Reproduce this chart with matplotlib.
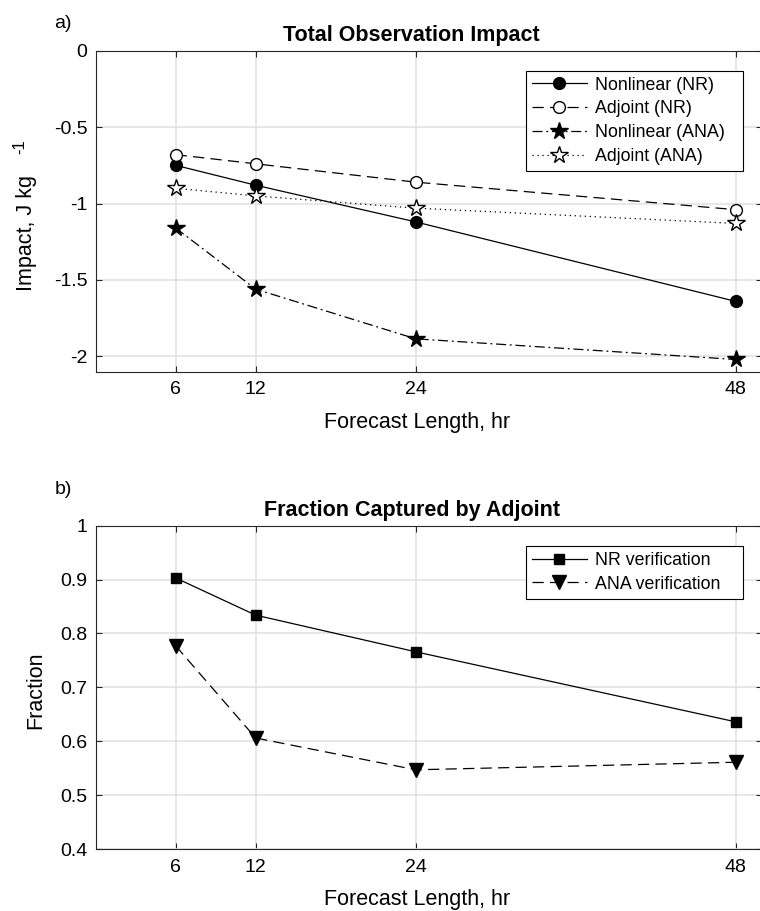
import numpy as np
from matplotlib import pyplot as plt

plt.rcParams['font.family'] = ['Liberation Sans', 'DejaVu Sans']
plt.rcParams['font.size'] = 14

hours = [6, 12, 24, 48]
xticks = [6, 12, 24, 48]

# panel a) total observation impact, J/kg
nl_nr = [-0.75, -0.88, -1.12, -1.64]
adj_nr = [-0.68, -0.74, -0.86, -1.04]
nl_ana = [-1.16, -1.56, -1.885, -2.02]
adj_ana = [-0.90, -0.95, -1.03, -1.13]

# panel b) fraction captured by adjoint
frac_nr = [0.903, 0.834, 0.766, 0.636]
frac_ana = [0.777, 0.606, 0.547, 0.561]

W, H = 760, 911
fig = plt.figure(figsize=(W / 100, H / 100), dpi=100)

spine_col = '#262626'
grid_col = '#e0e0e0'
TICK_FS = 14
LAB_FS = 15.5
LEG_FS = 12.8

def setup(ax, ylim, yticks):
    ax.set_xlim(0, 50)
    ax.set_ylim(*ylim)
    ax.set_xticks(xticks)
    ax.set_yticks(yticks)
    ax.grid(True, color=grid_col, lw=1.1)
    ax.set_axisbelow(True)
    ax.tick_params(direction='in', top=True, right=True, length=4,
                   width=0.8, color=spine_col, labelsize=TICK_FS)
    ax.tick_params(axis='x', pad=7)
    ax.tick_params(axis='y', pad=6)
    for s in ax.spines.values():
        s.set_color(spine_col)
        s.set_linewidth(0.8)

def add_legend(ax, top):
    leg = ax.legend(loc='upper left', bbox_to_anchor=(0.6454, top - 0.5, 0.3251, 0.5),
                    mode='expand', borderaxespad=0, fancybox=False, edgecolor='k',
                    framealpha=1, handlelength=3.1, handletextpad=0.45,
                    labelspacing=0.38, borderpad=0.33, fontsize=LEG_FS)
    leg.get_frame().set_linewidth(0.8)
    return leg

x0 = 95.7 / W
aw = (762.4 - 95.7) / W

# top panel
ax1 = fig.add_axes([x0, 1 - 371.7 / H, aw, 321.0 / H])
setup(ax1, (-2.1, 0), [-2, -1.5, -1, -0.5, 0])
ax1.set_yticklabels(['-2', '-1.5', '-1', '-0.5', '0'])
ax1.plot(hours, nl_nr, '-', color='k', lw=0.9, marker='o', ms=8.5,
         mfc='k', mec='k', label='Nonlinear (NR)')
ax1.plot(hours, adj_nr, color='k', lw=0.9, ls=(0, (9, 5)), marker='o', ms=8.5,
         mfc='white', mec='k', label='Adjoint (NR)')
ax1.plot(hours, nl_ana, color='k', lw=0.9, ls=(0, (8, 3, 1.5, 3)), marker='*', ms=13,
         mfc='k', mec='k', label='Nonlinear (ANA)')
ax1.plot(hours, adj_ana, color='k', lw=0.9, ls=(0, (1, 3)), marker='*', ms=13,
         mfc='white', mec='k', label='Adjoint (ANA)')
ax1.set_title('Total Observation Impact', fontweight='bold', fontsize=LAB_FS,
              x=0.474, pad=7)
ax1.set_xlabel('Forecast Length, hr', fontsize=LAB_FS)
ax1.xaxis.set_label_coords(0.482, -0.125)
ax1.xaxis.label.set_va('top')
ax1.set_ylabel('Impact, J kg', fontsize=LAB_FS)
ax1.yaxis.set_label_coords(-0.088, 0.432)
ax1.text(20 / W, 1 - 147 / H, '-1', transform=fig.transFigure, rotation=90,
         ha='center', va='center', fontsize=12)
add_legend(ax1, 0.9377)
fig.text(63 / W, 1 - 23 / H, 'a)', ha='center', va='center', fontsize=14)

# bottom panel
ax2 = fig.add_axes([x0, 1 - 849.0 / H, aw, 323.3 / H])
setup(ax2, (0.4, 1.0), [0.4, 0.5, 0.6, 0.7, 0.8, 0.9, 1.0])
ax2.set_yticklabels(['0.4', '0.5', '0.6', '0.7', '0.8', '0.9', '1'])
ax2.plot(hours, frac_nr, '-', color='k', lw=0.9, marker='s', ms=7.5,
         mfc='k', mec='k', label='NR verification')
ax2.plot(hours, frac_ana, color='k', lw=0.9, ls=(0, (9, 5)), marker='v', ms=10,
         mfc='k', mec='k', label='ANA verification')
ax2.set_title('Fraction Captured by Adjoint', fontweight='bold', fontsize=LAB_FS,
              x=0.474, pad=7)
ax2.set_xlabel('Forecast Length, hr', fontsize=LAB_FS)
ax2.xaxis.set_label_coords(0.482, -0.125)
ax2.xaxis.label.set_va('top')
ax2.set_ylabel('Fraction', fontsize=LAB_FS)
ax2.yaxis.set_label_coords(-0.0745, 0.49)
add_legend(ax2, 0.937)
fig.text(63 / W, 1 - 490 / H, 'b)', ha='center', va='center', fontsize=14)

fig.savefig('out.png', dpi=100)
